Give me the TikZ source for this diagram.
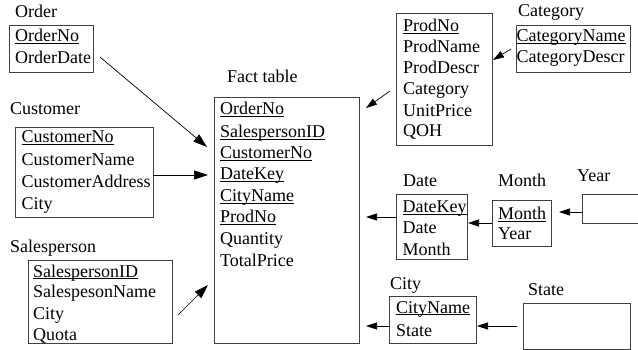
\documentclass[tikz,border=0pt]{standalone}
\usepackage{fontspec}
\setmainfont{Liberation Serif}
\usetikzlibrary{arrows.meta}
\newcommand\myul[1]{\setbox0\hbox{#1}\rlap{\rule[-2.2pt]{\wd0}{0.8pt}}\box0}
\begin{document}
\begin{tikzpicture}[x=1pt,y=-1pt,
  tbox/.style={draw=black!75,line width=0.9pt,inner sep=0pt,outer sep=0pt,anchor=north west},
  txt/.style={inner sep=0pt,anchor=base west,font=\fontsize{18}{21.6}\selectfont},
  arr/.style={-{Triangle[length=11pt,width=7pt]},line width=0.7pt},
  bigarr/.style={-{Triangle[length=14pt,width=9pt]},line width=0.7pt}]
\useasboundingbox (0,0) rectangle (638,350);
\newcommand\tbl[5]{\node[tbox,minimum width=#3-#1,minimum height=#4-#2] (#5) at (#1,#2) {};}
% boxes
\tbl{9}{25}{93}{72}{order}
\tbl{15}{127}{153}{217}{customer}
\tbl{28}{260}{172}{343}{salesperson}
\tbl{214}{97}{359}{343}{fact}
\tbl{396}{13}{492}{145}{product}
\tbl{516}{25}{630}{72}{category}
\tbl{396}{194}{467}{259}{date}
\tbl{492}{200}{551}{246}{month}
\tbl{582}{194}{645}{223}{year}
\tbl{389}{296}{476}{343}{city}
\tbl{523}{303}{630}{349}{state}
% labels
\node[txt] (lorder) at (15,18) {Order};
\node[txt] (lfact) at (227,83) {Fact table};
\node[txt] (lcustomer) at (10,115) {Customer};
\node[txt] (lsales) at (10,253) {Salesperson};
\node[txt] (lcategory) at (518,17) {Category};
\node[txt] (ldate) at (403,187) {Date};
\node[txt] (lmonth) at (498,187) {Month};
\node[txt] (lyear) at (577,182) {Year};
\node[txt] (lcity) at (390,290) {City};
\node[txt] (lstate) at (528,295) {State};
% order rows
\node[txt] (o1) at (15,42) {\myul{OrderNo}};
\node[txt] (o2) at (15,64) {OrderDate};
% customer rows
\node[txt] (c1) at (21.5,143) {\myul{CustomerNo}};
\node[txt] (c2) at (21.5,166) {CustomerName};
\node[txt] (c3) at (21.5,188) {CustomerAddress};
\node[txt] (c4) at (21.5,210) {City};
% salesperson rows
\node[txt] (s1) at (33,277) {\myul{SalespersonID}};
\node[txt] (s2) at (33,298) {SalespesonName};
\node[txt] (s3) at (33,319) {City};
\node[txt] (s4) at (33,340) {Quota};
% fact rows
\node[txt] (f1) at (220,115) {\myul{OrderNo}};
\node[txt] (f2) at (220,138) {\myul{SalespersonID}};
\node[txt] (f3) at (220,159) {\myul{CustomerNo}};
\node[txt] (f4) at (220,180) {\myul{DateKey}};
\node[txt] (f5) at (220,202) {\myul{CityName}};
\node[txt] (f6) at (220,223) {\myul{ProdNo}};
\node[txt] (f7) at (220,245) {Quantity};
\node[txt] (f8) at (220,266) {TotalPrice};
% product rows
\node[txt] (p1) at (403,32) {\myul{ProdNo}};
\node[txt] (p2) at (403,53) {ProdName};
\node[txt] (p3) at (403,74) {ProdDescr};
\node[txt] (p4) at (403,95) {Category};
\node[txt] (p5) at (403,117) {UnitPrice};
\node[txt] (p6) at (403,137) {QOH};
% category rows
\node[txt] (k1) at (516.5,42) {\myul{CategoryName}};
\node[txt] (k2) at (516.5,63) {CategoryDescr};
% date rows
\node[txt] (d1) at (402.5,213) {\myul{DateKey}};
\node[txt] (d2) at (402.5,234) {Date};
\node[txt] (d3) at (402.5,255) {Month};
% month rows
\node[txt] (m1) at (498,220) {\myul{Month}};
\node[txt] (m2) at (498,240) {Year};
% city rows
\node[txt] (t1) at (396,313) {\myul{CityName}};
\node[txt] (t2) at (396,336) {State};
% arrow end points
\coordinate (aorder) at (100,57);
\coordinate (efact1) at (207,147);
\coordinate (efact2) at (208,175);
\coordinate (asales) at (178,315);
\coordinate (efact3) at (208,285);
\coordinate (aprod) at (390,91);
\coordinate (efact4) at (366,108);
\coordinate (acat) at (511,49);
\coordinate (eprod) at (493,60);
\coordinate (efact5) at (366,217);
\coordinate (edate) at (468,223);
\coordinate (emonth) at (559,212);
\coordinate (efact6) at (366,326);
\coordinate (ecity) at (477,326);
\coordinate (astate) at (517,326);
% arrows
\draw[bigarr] (aorder) -- (efact1);
\draw[bigarr] (customer.east |- efact2) -- (efact2);
\draw[bigarr] (asales) -- (efact3);
\draw[arr] (aprod) -- (efact4);
\draw[arr] (acat) -- (eprod);
\draw[arr] (date.west |- efact5) -- (efact5);
\draw[arr] (month.west |- edate) -- (edate);
\draw[arr] (year.west |- emonth) -- (emonth);
\draw[arr] (city.west |- efact6) -- (efact6);
\draw[arr] (astate) -- (ecity);
\end{tikzpicture}
\end{document}
